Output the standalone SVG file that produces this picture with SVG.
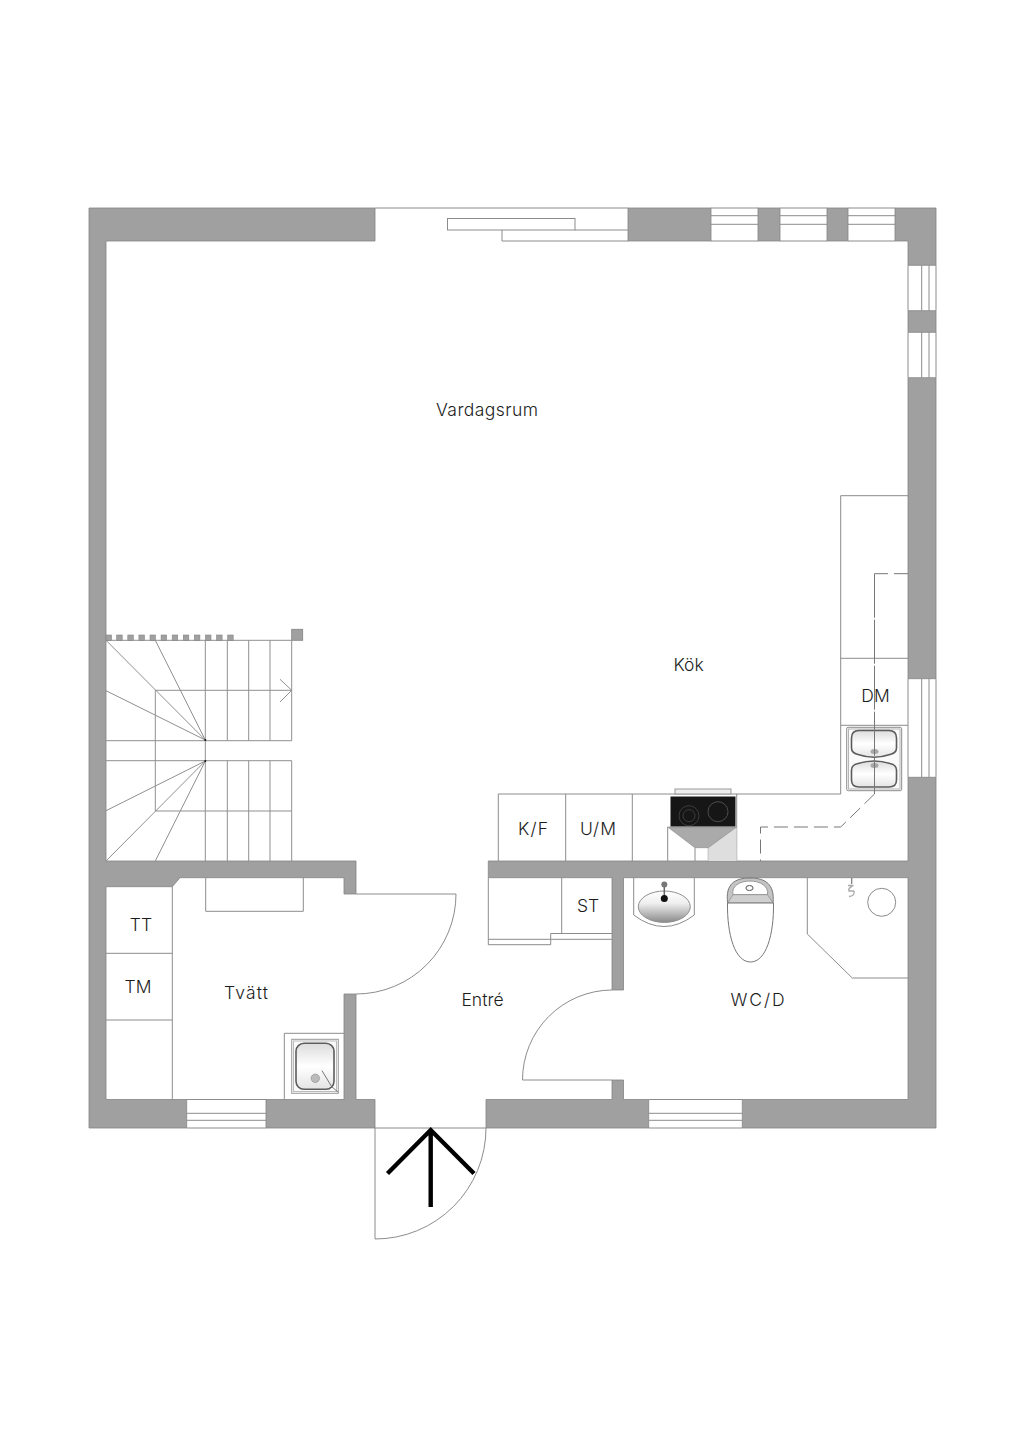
<svg xmlns="http://www.w3.org/2000/svg" width="1024" height="1449" viewBox="0 0 1024 1449">
<style>
.w{fill:#a0a0a0;stroke:#848484;stroke-width:.8}
.l{fill:none;stroke:#8c8c8c;stroke-width:1}
.t{fill:none;stroke:#8f8f8f;stroke-width:1}
.f{fill:#fff;stroke:#8c8c8c;stroke-width:1}
.d{fill:none;stroke:#777;stroke-width:1;stroke-dasharray:14 6}
.v{fill:none;stroke:#777;stroke-width:1;stroke-dasharray:44 2}
.b{fill:url(#basin);stroke:#5c5c5c;stroke-width:1.6}
text{font-family:"Inter","Liberation Sans",sans-serif;font-weight:300;font-size:17.5px;fill:#1c1c1c;text-anchor:middle}
</style>
<defs>
<linearGradient id="basin" x1="0" y1="0" x2="0" y2="1"><stop offset="0" stop-color="#dcdcdc"/><stop offset=".5" stop-color="#fff"/><stop offset="1" stop-color="#e4e4e4"/></linearGradient>
<linearGradient id="wash" x1="0" y1="0" x2="0" y2="1"><stop offset="0" stop-color="#fff"/><stop offset=".4" stop-color="#eee"/><stop offset="1" stop-color="#8a8a8a"/></linearGradient>
</defs>
<rect width="1024" height="1449" fill="#fff"/>
<g id="walls">
<path class="w" d="M89,208H375V241H106V861H356V894H344V877.7H180L172.3,886.7H106V1099.5H186.7V1128H89Z"/>
<path class="w" d="M266,1128V1099.5H344V994H356V1099.5H375V1128Z"/>
<path class="w" d="M486,1128V1099.5H612V1080H623.5V1099.5H648.7V1128Z"/>
<path class="w" d="M742.3,1128V1099.5H908V877.7H623.5V990H612V877.7H488.3V861H908V777.3H936V1128Z"/>
<path class="w" d="M908,678.7V377.7H936V678.7Z"/>
<path class="w" d="M908,310.7H936V332.3H908Z"/>
<path class="w" d="M895,208H936V265.3H908V241H895Z"/>
<rect class="w" x="628" y="208" width="83" height="33"/>
<rect class="w" x="758" y="208" width="22" height="33"/>
<rect class="w" x="827" y="208" width="21" height="33"/>
</g>
<g id="windows">
<path class="l" d="M711,208H758M711,215.7H758M711,224.3H758M711,241H758"/>
<path class="l" d="M780,208H827M780,215.7H827M780,224.3H827M780,241H827"/>
<path class="l" d="M848,208H895M848,215.7H895M848,224.3H895M848,241H895"/>
<path class="l" d="M908,265.3V310.7M921.7,265.3V310.7M929,265.3V310.7M936,265.3V310.7"/>
<path class="l" d="M908,332.3V377.7M921.7,332.3V377.7M929,332.3V377.7M936,332.3V377.7"/>
<path class="l" d="M908,678.7V777.3M921.7,678.7V777.3M929,678.7V777.3M936,678.7V777.3"/>
<path class="l" d="M186.7,1099.5H266M186.7,1113.3H266M186.7,1120.3H266M186.7,1128H266"/>
<path class="l" d="M648.7,1099.5H742.3M648.7,1113.3H742.3M648.7,1120.3H742.3M648.7,1128H742.3"/>
</g>
<g id="sliding-door">
<path class="l" d="M375,208H628"/>
<rect class="f" x="447.500" y="218.500" width="127.500" height="11.500"/>
<path class="l" d="M575,230H628M502,230V241H628"/>
</g>
<g id="doors">
<path class="l" d="M375,1128H486M375,1128V1239A111,111 0 0 0 486,1128"/>
<path class="l" d="M356,894H456A100,100 0 0 1 356,994"/>
<path class="l" d="M612,990A90,90 0 0 0 522.5,1080H612"/>
</g>
<g id="entrance-arrow" fill="none" stroke="#000" stroke-width="4.400">
<path d="M430.7,1130V1207M387.500,1173.500L430.7,1130L474,1173.500"/>
</g>
<g id="stairs">
<path class="t" d="M106,640.3H291.7V740.7H106M106,760.7H291.7V861M155.3,690.3H291.7M155.3,811H291.7M155.3,690.3V811"/>
<path class="t" d="M205.3,640.3V861M227.3,640.3V740.7M248.7,640.3V740.7M270,640.3V740.7M227.3,760.7V861M248.7,760.7V861M270,760.7V861"/>
<path class="t" d="M205.3,740L106,640.3M205.3,740L155.3,640.3M205.3,740L106,690.7M205.3,761L106,810.7M205.3,761L106,861M205.3,761L155.3,861"/>
<path class="t" d="M280,679.3L291.7,690.3L280,702"/>
<rect class="w" x="291.7" y="629.3" width="11" height="11"/>
<g fill="#a0a0a0" stroke="#848484" stroke-width=".6">
<rect x="106" y="635" width="5.500" height="5.300"/><rect x="116.7" y="635" width="5.500" height="5.300"/><rect x="127.8" y="635" width="5.500" height="5.300"/><rect x="138.9" y="635" width="5.500" height="5.300"/><rect x="150" y="635" width="5.500" height="5.300"/><rect x="161.100" y="635" width="5.500" height="5.300"/><rect x="172.2" y="635" width="5.500" height="5.300"/><rect x="183.3" y="635" width="5.500" height="5.300"/><rect x="194.4" y="635" width="5.500" height="5.300"/><rect x="205.500" y="635" width="5.500" height="5.300"/><rect x="216.6" y="635" width="5.500" height="5.300"/><rect x="227.7" y="635" width="5.500" height="5.300"/>
</g>
<circle cx="205.3" cy="740" r="1" fill="#111"/><circle cx="205.3" cy="761" r="1" fill="#111"/>
</g>
<g id="kitchen">
<path class="l" d="M840.7,794V495.7H908M840.7,658.3H908M840.7,725.3H908"/>
<path class="l" d="M840.7,794H498.3V861M565.7,794V861M632.3,794V861"/>
<path class="l" d="M667.7,827V861M736.7,794V861M695,847.7V861M708.3,847.7V861"/>
<path d="M708.3,847.7L736.7,827V861H708.3Z" fill="#dedede"/>
<path d="M667.7,827H736.7L708.3,847.7H695Z" fill="#aaa" stroke="#888" stroke-width=".6"/>
<rect x="670.500" y="796.500" width="65" height="30" fill="#161616"/>
<rect x="675" y="789" width="56" height="5" fill="#eee" stroke="#999" stroke-width="1"/>
<circle cx="689" cy="815.7" r="10" fill="none" stroke="#3c3c3c"/><circle cx="689" cy="815.7" r="6" fill="none" stroke="#3c3c3c"/><circle cx="718" cy="811.7" r="10" fill="none" stroke="#4c4c4c"/>
<rect x="846.7" y="727.3" width="55" height="63.400" rx="1.500" fill="#fafafa" stroke="#8c8c8c"/>
<rect x="848.500" y="729" width="51.500" height="60" fill="none" stroke="#b5b5b5"/>
<path class="b" d="M859,730.500H889Q896.500,730.500 896.500,738V748Q896.500,753 890,754.500Q874,760 858,754.500Q851.500,753 851.500,748V738Q851.500,730.500 859,730.500Z"/>
<path class="b" d="M858,763.500Q874,758.500 890,763.500Q896.500,765 896.500,770V780Q896.500,787 889,787H859Q851.500,787 851.500,780V770Q851.500,765 858,763.500Z"/>
<ellipse cx="874.500" cy="751.500" rx="4" ry="2.500" fill="#a8a8a8"/><ellipse cx="874.500" cy="765.500" rx="4" ry="2.500" fill="#a8a8a8"/>
<path class="d" d="M908,573.700H874.500"/>
<path class="v" d="M874.500,573.700V794"/>
<path class="d" d="M874.500,794L840.700,827H760.500V861"/>
</g>
<g id="laundry">
<path class="l" d="M172.3,886.7V1099.5M106,953.3H172.3M106,1020H172.3"/>
<path class="l" d="M205.7,877.7V911.3H303.3V877.7"/>
<path class="l" d="M284.3,1099.5V1033.3H344"/>
<rect x="291.7" y="1039.3" width="46.600" height="54" fill="#fafafa" stroke="#999"/>
<rect x="293.500" y="1041" width="43" height="50.500" fill="none" stroke="#bbb"/>
<rect x="296" y="1043.3" width="38" height="46" rx="8" class="b"/>
<circle cx="315.3" cy="1078.3" r="4.200" fill="#bbb" stroke="#888" stroke-width=".6"/>
<path d="M322,1070.700L331.700,1086.700L338,1092" stroke="#777" fill="none"/>
</g>
<g id="closet">
<path class="l" d="M488.3,877.7V944.7H550.7V933.5H612M488.3,939.3H550.7M550.7,939.3H612M561.7,877.7V933.5"/>
</g>
<g id="bathroom">
<path class="l" d="M633.7,877.7V915Q664,938 694.3,915V877.7"/>
<ellipse cx="664.3" cy="906.7" rx="26" ry="15.700" fill="url(#wash)" stroke="#8f8f8f"/>
<path d="M664.3,884V898" stroke="#666" stroke-width="1.500"/>
<circle cx="664.3" cy="884.500" r="3" fill="#777"/><circle cx="664.3" cy="898.500" r="3.500" fill="#111"/>
<path d="M727.700,903C725,884 735,878 750,878C765,878 775,884 773,903Z" fill="#c4c4c4" stroke="#777"/>
<path d="M733,894.700C731,886 740,881 750,881C760,881 769,886 767.500,894.700Z" fill="#fff" stroke="#999"/>
<path d="M733,894.700H767.500L773,903H727.700Z" fill="#cfcfcf" stroke="#8c8c8c" stroke-width=".7"/>
<ellipse cx="749.500" cy="888" rx="3.600" ry="2.500" fill="#fff" stroke="#555"/>
<path d="M727.500,903C727,935 735,962 750.500,962C766,962 774,935 773.500,903Z" fill="#fff" stroke="#777"/>
<path class="l" d="M807.3,877.7V934L852.3,978H908"/>
<circle cx="881.7" cy="902.3" r="14" class="l"/>
<path d="M851.700,878V884" stroke="#777" stroke-width="1.200"/>
<path d="M848,885.500H853.500M853,885.500Q848,888 849,891H854M854,891Q855,896 849,896.500" fill="none" stroke="#aaa" stroke-width="1.400"/>
</g>
<g id="labels">
<text x="487" y="415.500" textLength="102">Vardagsrum</text>
<text x="688.500" y="671">Kök</text>
<text x="875.500" y="702">DM</text>
<text x="533" y="835" textLength="30">K/F</text>
<text x="598" y="835" textLength="36">U/M</text>
<text x="588" y="912">ST</text>
<text x="141" y="931">TT</text>
<text x="138" y="993">TM</text>
<text x="246" y="998.500" textLength="44">Tvätt</text>
<text x="482.500" y="1005.500">Entré</text>
<text x="757.500" y="1005.500" textLength="54">WC/D</text>
</g>
</svg>
